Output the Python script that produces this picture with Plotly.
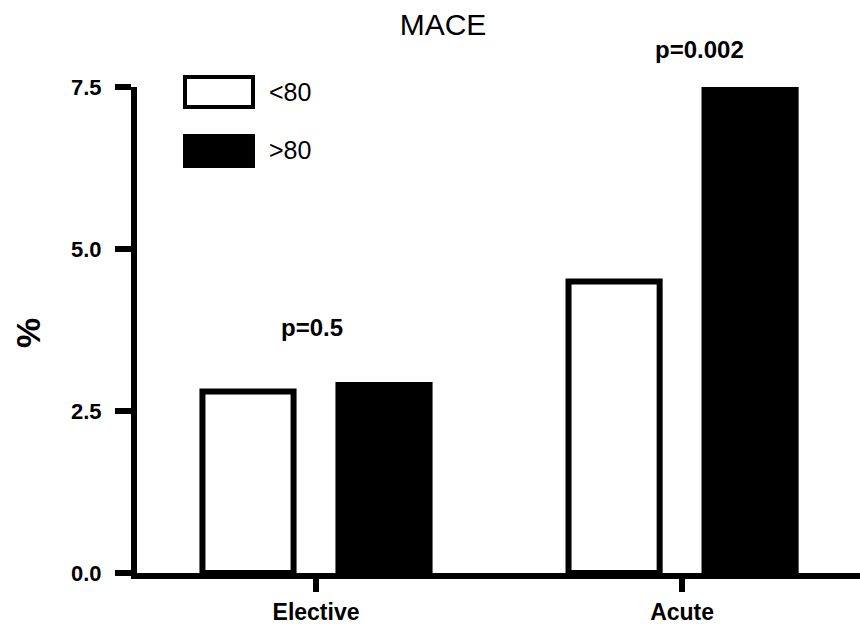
import plotly.graph_objects as go

# MACE rate (%) by admission type and age group
categories = ["Elective", "Acute"]
under_80 = [2.8, 4.5]
over_80 = [2.9, 7.5]
series_names = ["<80", ">80"]
p_labels = ["p=0.5", "p=0.002"]
p_label_px = [327, 50]    # vertical pixel centre of each p-value label
p_label_shift = [-4, 17]  # horizontal nudge from the group centre
y_ticks = [0.0, 2.5, 5.0, 7.5]
y_tick_text = ["0.0", "2.5", "5.0", "7.5"]

W, H = 860, 624
ML, MR, MT, MB = 137, 0, 87, 51
PW, PH = W - ML - MR, H - MT - MB
FONT = "Liberation Sans, Arial, Helvetica, sans-serif"


def px_x(p):
    return (p - ML) / PW


def px_y(p):
    return (H - MB - p) / PH


fig = go.Figure()
fig.add_trace(go.Bar(
    x=categories, y=under_80, name=series_names[0],
    marker=dict(color="white", line=dict(color="black", width=6)),
    showlegend=False,
))
fig.add_trace(go.Bar(
    x=categories, y=over_80, name=series_names[1],
    marker=dict(color="black", line=dict(color="black", width=6)),
    showlegend=False,
))

annotations = []
for cat, txt, py, sh in zip(categories, p_labels, p_label_px, p_label_shift):
    annotations.append(dict(
        x=cat, y=px_y(py), xref="x", yref="paper", text=txt, showarrow=False,
        xshift=sh,
        font=dict(family=FONT, size=24, color="black", weight="bold"),
        xanchor="center", yanchor="middle",
    ))

# axis title
annotations.append(dict(
    x=px_x(28), y=px_y(333), xref="paper", yref="paper", text="%",
    textangle=-90, showarrow=False,
    font=dict(family=FONT, size=34, color="black", weight="bold"),
    xanchor="center", yanchor="middle",
))

# legend swatches and labels
shapes = []
legend_rows = [(series_names[0], "white", 77, 107, 92),
               (series_names[1], "black", 136, 166, 150)]
for name, fill, top, bottom, mid in legend_rows:
    shapes.append(dict(
        type="rect", xref="paper", yref="paper",
        x0=px_x(185), x1=px_x(253), y0=px_y(bottom), y1=px_y(top),
        fillcolor=fill, line=dict(color="black", width=4),
    ))
    annotations.append(dict(
        x=px_x(267), y=px_y(mid), xref="paper", yref="paper", text=name,
        showarrow=False, xanchor="left", yanchor="middle",
        font=dict(family=FONT, size=25, color="black"),
    ))

fig.update_layout(
    width=W, height=H,
    margin=dict(l=ML, r=MR, t=MT, b=MB, pad=0, autoexpand=False),
    paper_bgcolor="white", plot_bgcolor="white",
    barmode="group", bargap=0.257, bargroupgap=0.33,
    title=dict(text="MACE", x=443 / W, xanchor="center", y=1 - 24 / H,
               yanchor="middle",
               font=dict(family=FONT, size=30, color="black")),
    annotations=annotations, shapes=shapes,
    showlegend=False,
)
fig.update_xaxes(
    range=[-0.489, 1.486], showline=True, linewidth=6, linecolor="black",
    ticks="outside", ticklen=13, tickwidth=6, tickcolor="black",
    showgrid=False, zeroline=False, ticklabelstandoff=0, automargin=False,
    tickfont=dict(family=FONT, size=23, color="black", weight="bold"),
)
fig.update_yaxes(
    range=[0, 7.5], tickvals=y_ticks, ticktext=y_tick_text,
    showline=True, linewidth=6, linecolor="black",
    ticks="outside", ticklen=16, tickwidth=6, tickcolor="black",
    showgrid=False, zeroline=False, ticklabelstandoff=9, automargin=False,
    tickfont=dict(family=FONT, size=22, color="black", weight="bold"),
)

fig.write_html("out.html")
